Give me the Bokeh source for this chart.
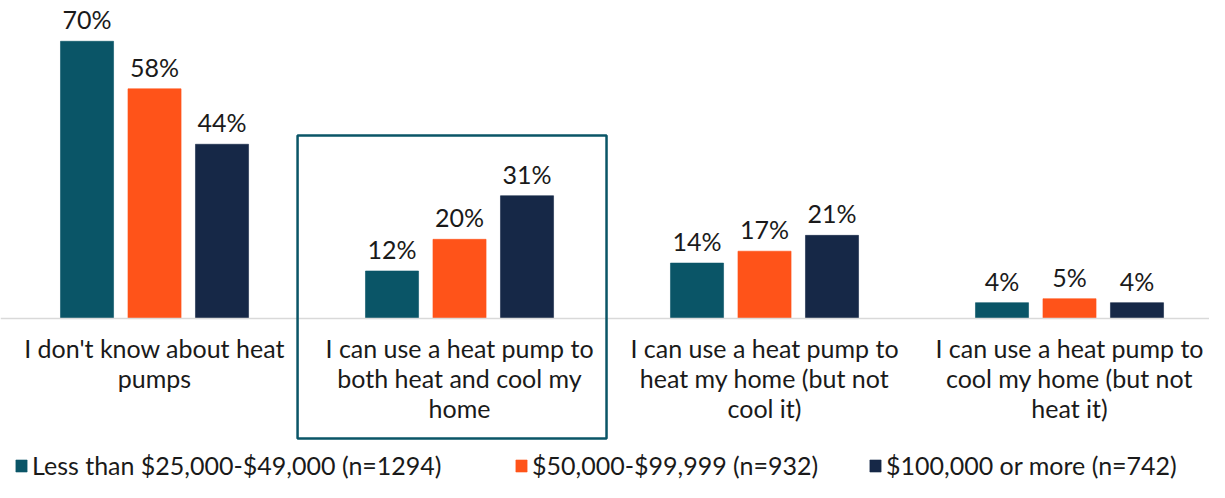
import numpy as np
from bokeh.plotting import figure
from bokeh.models import ColumnDataSource, Range1d, Legend, LegendItem, Span, BoxAnnotation
from bokeh.core.properties import value
from bokeh.embed import file_html
from bokeh.resources import INLINE

categories = [
    "I don't know about heat\npumps",
    "I can use a heat pump to\nboth heat and cool my\nhome",
    "I can use a heat pump to\nheat my home (but not\ncool it)",
    "I can use a heat pump to\ncool my home (but not\nheat it)",
]
series_names = [
    "Less than $25,000-$49,000 (n=1294)",
    "$50,000-$99,999 (n=932)",
    "$100,000 or more (n=742)",
]
low_income = [70, 12, 14, 4]
mid_income = [58, 20, 17, 5]
high_income = [44, 31, 21, 4]
series_values = [low_income, mid_income, high_income]
colors = ["#0A5567", "#FF5319", "#162847"]
highlight_index = 1

FONT = "Lato"
TXT = "#1a1a1a"
W, H = 1209, 482
p = figure(width=W, height=H, output_backend="svg", toolbar_location=None,
           x_range=Range1d(-0.505, 3.459), y_range=Range1d(-41.4, 80.3),
           min_border=0, min_border_left=0, min_border_right=0,
           min_border_top=0, min_border_bottom=0)
p.axis.visible = False
p.grid.visible = False
p.outline_line_color = None
p.background_fill_color = "white"

idx = np.arange(len(categories))
offsets = [-0.2213, 0.0, 0.2213]
bar_w = 0.174

p.add_layout(Span(location=0, dimension="width", line_color="#d9d9d9", line_width=1.5))

renderers = []
for vals, name, col, off in zip(series_values, series_names, colors, offsets):
    src = ColumnDataSource(dict(x=idx + off, top=vals,
                                lab=[f"{v}%" for v in vals]))
    r = p.vbar(x="x", top="top", width=bar_w, bottom=0, source=src,
               fill_color=col, line_color=col, line_alpha=0.6)
    p.text(x="x", y="top", text="lab", source=src, text_align="center",
           text_baseline="bottom", y_offset=-7, text_font=value(FONT),
           text_font_size="25px", text_color=TXT)
    renderers.append(r)

lsrc = ColumnDataSource(dict(x=idx, y=np.zeros(len(categories)), t=categories))
p.text(x="x", y="y", text="t", source=lsrc, text_align="center",
       text_baseline="top", y_offset=14, text_font=value(FONT),
       text_font_size="25px", text_color=TXT, text_line_height=1.0)

hl = highlight_index
p.add_layout(BoxAnnotation(left=hl - 0.531, right=hl + 0.482, bottom=-30.3, top=46.2,
                           fill_alpha=0, line_color="#0A5567", line_alpha=1.0,
                           line_width=2.5))

legend_x = [14, 514, 868]
for r, name, lx in zip(renderers, series_names, legend_x):
    lg = Legend(items=[LegendItem(label=name, renderers=[r])], location=(lx, 2),
                label_text_font=FONT, label_text_font_size="25px",
                label_text_color=TXT, glyph_width=14, glyph_height=15,
                label_standoff=4, padding=0, margin=0, label_height=15,
                border_line_color=None, background_fill_alpha=0)
    p.add_layout(lg)

open("out.html", "w").write(file_html(p, INLINE))
